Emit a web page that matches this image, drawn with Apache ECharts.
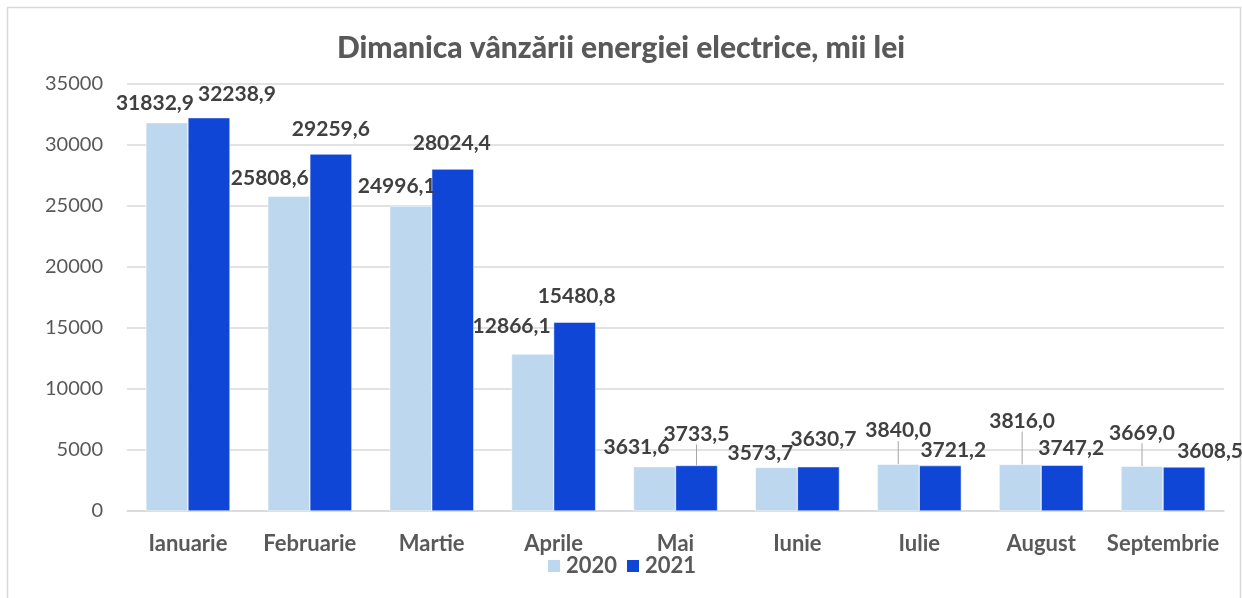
<!DOCTYPE html>
<html>
<head>
<meta charset="utf-8">
<script src="https://cdn.jsdelivr.net/npm/echarts@6/dist/echarts.min.js"></script>
<style>
  html, body { margin: 0; padding: 0; background: #fff; }
  #chart { width: 1242px; height: 598px; }
</style>
</head>
<body>
<div id="chart"></div>
<script>
// date grafic
const luni = ['Ianuarie', 'Februarie', 'Martie', 'Aprile', 'Mai', 'Iunie', 'Iulie', 'August', 'Septembrie'];
const vanzari2020 = [31832.9, 25808.6, 24996.1, 12866.1, 3631.6, 3573.7, 3840.0, 3816.0, 3669.0];
const vanzari2021 = [32238.9, 29259.6, 28024.4, 15480.8, 3733.5, 3630.7, 3721.2, 3747.2, 3608.5];
const tickuriY = [0, 5000, 10000, 15000, 20000, 25000, 30000, 35000];

// deplasarea etichetelor (dx, dy) si care au linie de legatura
const deplasari = [
  [[-12, -4], [-19, -2], [-14, -4], [-21, -12], [-18, -4], [-16, 1], [0, -18], [2, -28], [0, -18]],
  [[28, -8], [0, -9], [-1, -10], [2, -10], [0, -16], [5, -12], [13, 0], [9, -2], [26, 0]]
];
const cuLinie = [
  [false, false, false, false, false, false, true, true, true],
  [false, false, false, false, true, false, false, false, false]
];

const font = 'Lato';
const gri = '#595959';

const fmt = v => v.toFixed(1).replace('.', ',');

function faSerie(nume, valori, culoare, idx) {
  return {
    name: nume,
    type: 'bar',
    barGap: '0%',
    barCategoryGap: '31%',
    itemStyle: { color: culoare, borderColor: '#fff', borderWidth: 0.5 },
    label: {
      show: true,
      position: 'top',
      distance: 5,
      fontFamily: font,
      fontWeight: 'bold',
      fontSize: 21,
      color: '#404040',
      formatter: p => fmt(p.value)
    },
    labelLine: { show: false, lineStyle: { color: '#a6a6a6', width: 1 } },
    labelLayout: p => ({ dx: deplasari[idx][p.dataIndex][0], dy: deplasari[idx][p.dataIndex][1] }),
    data: valori.map((v, i) => ({
      value: v,
      labelLine: { show: cuLinie[idx][i], lineStyle: { color: '#a6a6a6', width: 1 } }
    }))
  };
}

const chart = echarts.init(document.getElementById('chart'));
chart.setOption({
  animation: false,
  backgroundColor: '#fff',
  textStyle: { fontFamily: font },
  title: {
    text: 'Dimanica vânzării energiei electrice, mii lei',
    left: 'center',
    top: 28,
    textStyle: { fontFamily: font, fontWeight: 900, fontSize: 30, color: gri }
  },
  graphic: [{
    type: 'rect',
    shape: { x: 7.5, y: 7.5, width: 1233, height: 600 },
    style: { fill: 'none', stroke: '#d9d9d9', lineWidth: 1.5 },
    silent: true
  }],
  legend: {
    bottom: 16,
    left: 'center',
    itemWidth: 14,
    itemHeight: 14,
    itemGap: 8,
    icon: 'rect',
    textStyle: { fontFamily: font, fontWeight: 'bold', fontSize: 22, color: gri }
  },
  grid: { left: 127, right: 18, top: 84, bottom: 87 },
  xAxis: {
    type: 'category',
    data: luni,
    axisTick: { show: false },
    axisLine: { lineStyle: { color: '#d9d9d9', width: 1.5 } },
    axisLabel: { interval: 0, fontFamily: font, fontWeight: 'bold', fontSize: 22, color: gri, margin: 22 }
  },
  yAxis: {
    type: 'value',
    min: tickuriY[0],
    max: tickuriY[tickuriY.length - 1],
    interval: tickuriY[1] - tickuriY[0],
    axisLine: { show: false },
    axisTick: { show: false },
    axisLabel: { fontFamily: font, fontSize: 20, color: gri, margin: 24, formatter: v => String(v) },
    splitLine: { lineStyle: { color: '#d9d9d9', width: 1.5 } }
  },
  series: [
    faSerie('2020', vanzari2020, '#bdd7ee', 0),
    faSerie('2021', vanzari2021, '#1046d6', 1)
  ]
});
</script>
</body>
</html>
